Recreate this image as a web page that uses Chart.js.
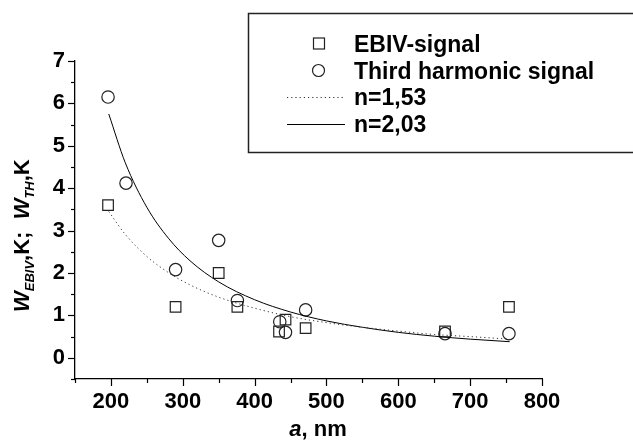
<!DOCTYPE html>
<html>
<head>
<meta charset="utf-8">
<script src="https://cdn.jsdelivr.net/npm/chart.js@4.4.1/dist/chart.umd.min.js"></script>
<style>
  html, body { margin: 0; padding: 0; background: #fff; }
  #wrap { width: 633px; height: 440px; }
</style>
</head>
<body>
<div id="wrap"><canvas id="chart" width="633" height="440"></canvas></div>
<script>
// measured points (a in nm, width in K)
const ebivX = [196, 290, 350, 376, 434, 443, 471, 665, 754];
const ebivY = [3.6, 1.2, 2.0, 1.2, 0.62, 0.9, 0.7, 0.62, 1.2];
const thX = [196, 221, 290, 350, 376, 435, 443, 471, 665, 754];
const thY = [6.15, 4.12, 2.08, 2.77, 1.35, 0.85, 0.6, 1.13, 0.57, 0.57];

// fitted curves
const fitX = [197, 220, 250, 280, 310, 350, 400, 450, 500, 550, 600, 650, 700, 755];
const fit153 = [3.45, 2.91, 2.39, 2.01, 1.72, 1.43, 1.17, 0.97, 0.83, 0.72, 0.63, 0.55, 0.5, 0.44];
const fit203 = [5.75, 4.6, 3.55, 2.82, 2.29, 1.79, 1.37, 1.08, 0.87, 0.72, 0.6, 0.51, 0.44, 0.38];

const legendLabels = ["EBIV-signal", "Third harmonic signal", "n=1,53", "n=2,03"];

const FONT = "'Liberation Sans', Arial, sans-serif";

function pts(xs, ys) {
  return xs.map((x, i) => ({ x: x, y: ys[i] }));
}

// tick marks (major/minor), axis titles and the boxed legend
const decorations = {
  id: "decorations",
  afterDraw(chart) {
    const ctx = chart.ctx;
    const xs = chart.scales.x;
    const ys = chart.scales.y;
    const area = chart.chartArea;
    ctx.save();
    ctx.strokeStyle = "#000";
    ctx.lineWidth = 1.2;

    // x ticks
    xs.ticks.forEach((t) => {
      const px = Math.round(xs.getPixelForValue(t.value)) + 0.5;
      const len = t.value % 100 === 0 ? 7 : 4;
      ctx.beginPath();
      ctx.moveTo(px, area.bottom);
      ctx.lineTo(px, area.bottom + len);
      ctx.stroke();
    });
    // y ticks
    ys.ticks.forEach((t) => {
      const py = Math.round(ys.getPixelForValue(t.value)) + 0.5;
      const len = Number.isInteger(t.value) ? 7 : 4;
      ctx.beginPath();
      ctx.moveTo(area.left, py);
      ctx.lineTo(area.left - len, py);
      ctx.stroke();
    });

    // x title
    ctx.fillStyle = "#000";
    ctx.textBaseline = "alphabetic";
    ctx.font = "italic bold 22px " + FONT;
    const aW = ctx.measureText("a").width;
    ctx.font = "bold 22px " + FONT;
    const restW = ctx.measureText(", nm").width;
    let sx = 318 - (aW + restW) / 2;
    ctx.font = "italic bold 22px " + FONT;
    ctx.fillText("a", sx, 436);
    ctx.font = "bold 22px " + FONT;
    ctx.fillText(", nm", sx + aW, 436);

    // y title, rotated, with subscripts
    const parts = [
      ["W", "italic bold 22px", 0],
      ["EBIV", "italic bold 13px", 5],
      [",K;  ", "bold 22px", 0],
      ["W", "italic bold 22px", 0],
      ["TH", "italic bold 13px", 5],
      [",K", "bold 22px", 0],
    ];
    ctx.save();
    ctx.translate(29, 312);
    ctx.rotate(-Math.PI / 2);
    let cx = 0;
    parts.forEach(([txt, f, dy]) => {
      ctx.font = f + " " + FONT;
      ctx.fillText(txt, cx, dy);
      cx += ctx.measureText(txt).width;
    });
    ctx.restore();

    // legend box
    ctx.strokeStyle = "#222";
    ctx.lineWidth = 1.5;
    ctx.strokeRect(248.5, 13.5, 420, 139);

    // legend symbols
    ctx.lineWidth = 1.2;
    ctx.strokeStyle = "#222";
    ctx.strokeRect(313.5, 38, 11, 11);
    ctx.beginPath();
    ctx.arc(318.5, 70.5, 6, 0, Math.PI * 2);
    ctx.stroke();
    ctx.lineWidth = 1;
    ctx.strokeStyle = "#333";
    ctx.setLineDash([1.2, 3]);
    ctx.beginPath();
    ctx.moveTo(287, 97.5);
    ctx.lineTo(345, 97.5);
    ctx.stroke();
    ctx.setLineDash([]);
    ctx.strokeStyle = "#000";
    ctx.beginPath();
    ctx.moveTo(287, 124.5);
    ctx.lineTo(345, 124.5);
    ctx.stroke();

    // legend texts
    ctx.fillStyle = "#000";
    ctx.font = "bold 23px " + FONT;
    const baselines = [51.5, 78.5, 105, 131.5];
    legendLabels.forEach((s, i) => ctx.fillText(s, 354, baselines[i]));
    ctx.restore();
  },
};

new Chart(document.getElementById("chart"), {
  type: "scatter",
  data: {
    datasets: [
      {
        label: legendLabels[2],
        data: pts(fitX, fit153),
        showLine: true,
        pointRadius: 0,
        borderColor: "#333",
        borderWidth: 1,
        borderDash: [1.2, 3],
        cubicInterpolationMode: "monotone",
      },
      {
        label: legendLabels[3],
        data: pts(fitX, fit203),
        showLine: true,
        pointRadius: 0,
        borderColor: "#000",
        borderWidth: 1,
        cubicInterpolationMode: "monotone",
      },
      {
        label: legendLabels[0],
        data: pts(ebivX, ebivY),
        pointStyle: "rect",
        pointRadius: 7.5,
        borderWidth: 1.2,
        borderColor: "#222",
        backgroundColor: "rgba(0,0,0,0)",
      },
      {
        label: legendLabels[1],
        data: pts(thX, thY),
        pointStyle: "circle",
        pointRadius: 6.2,
        borderWidth: 1.2,
        borderColor: "#222",
        backgroundColor: "rgba(0,0,0,0)",
      },
    ],
  },
  options: {
    responsive: false,
    animation: false,
    layout: { padding: { top: 61, right: 91, left: 0, bottom: 0 } },
    plugins: {
      legend: { display: false },
      tooltip: { enabled: false },
    },
    scales: {
      x: {
        type: "linear",
        min: 150,
        max: 800,
        border: { display: true, color: "#000", width: 1.3 },
        grid: { display: true, drawOnChartArea: false, drawTicks: false },
        ticks: {
          stepSize: 50,
          autoSkip: false,
          maxRotation: 0,
          padding: 10,
          color: "#000",
          font: { family: FONT, size: 22, weight: "bold" },
          callback: (v) => (v % 100 === 0 ? String(v) : ""),
        },
        afterFit(scale) {
          scale.height = 61;
        },
      },
      y: {
        min: -0.5,
        max: 7,
        border: { display: true, color: "#000", width: 1.3 },
        grid: { display: true, drawOnChartArea: false, drawTicks: false },
        ticks: {
          stepSize: 0.5,
          autoSkip: false,
          padding: 10,
          color: "#000",
          font: { family: FONT, size: 22, weight: "bold" },
          callback: (v) => (Number.isInteger(v) ? String(v) : ""),
        },
        afterFit(scale) {
          scale.width = 75;
        },
      },
    },
  },
  plugins: [decorations],
});
</script>
</body>
</html>
